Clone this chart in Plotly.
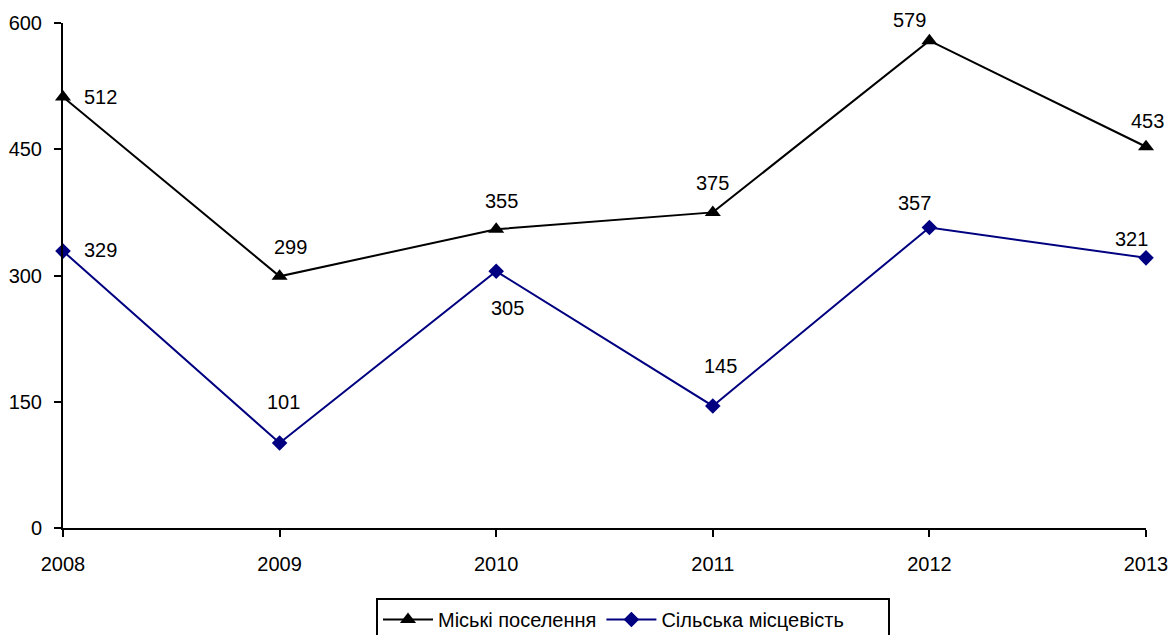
import plotly.graph_objects as go

years = ["2008", "2009", "2010", "2011", "2012", "2013"]
urban = [512, 299, 355, 375, 579, 453]
rural = [329, 101, 305, 145, 357, 321]
y_ticks = [0, 150, 300, 450, 600]

# label offsets (pixels) for data labels: (xshift, yshift)
urban_off = [(37, 0), (11, 29), (5, 28), (0, 29), (-20, 21), (1, 26)]
rural_off = [(37, 1), (4, 41), (11, -37), (8, 40), (-15, 25), (-15, 19)]

FONT = "Liberation Sans, Arial, sans-serif"
xs = list(range(len(years)))

W, H = 1172, 635
NBSP = "\u00a0"

fig = go.Figure()
fig.add_trace(go.Scatter(
    x=xs, y=urban, name="Міські поселення", mode="lines+markers",
    line=dict(color="black", width=2),
    marker=dict(symbol="triangle-up", size=14, color="black"),
    cliponaxis=False,
))
fig.add_trace(go.Scatter(
    x=xs, y=rural, name="Сільська місцевість" + NBSP * 7, mode="lines+markers",
    line=dict(color="#000080", width=2),
    marker=dict(symbol="diamond", size=12, color="#000080"),
    cliponaxis=False,
))

annotations = []
for vals, offs in ((urban, urban_off), (rural, rural_off)):
    for x, v, (dx, dy) in zip(xs, vals, offs):
        annotations.append(dict(
            x=x, y=v, xref="x", yref="y", text=str(v), showarrow=False,
            xshift=dx, yshift=dy, font=dict(family=FONT, size=20, color="black"),
        ))

fig.update_layout(
    width=W, height=H,
    margin=dict(l=63, r=26, t=23, b=107),
    paper_bgcolor="white", plot_bgcolor="white",
    font=dict(family=FONT, size=20, color="black"),
    showlegend=True,
    annotations=annotations,
    legend=dict(orientation="h", x=376 / W, xanchor="left", xref="container",
                y=(H - 598) / H, yanchor="top", yref="container",
                bordercolor="black", borderwidth=2, font=dict(size=20),
                tracegroupgap=0, itemwidth=50),
)
fig.update_xaxes(
    range=[0, len(years) - 1], tickmode="array", tickvals=xs, ticktext=years,
    showline=True, linecolor="black", linewidth=2, ticks="outside", ticklen=7, tickwidth=2,
    tickcolor="black", showgrid=False, zeroline=False, tickfont=dict(size=20),
    automargin=False, ticklabelstandoff=10,
)
fig.update_yaxes(
    range=[0, 600], tickmode="array", tickvals=y_ticks,
    showline=True, linecolor="black", linewidth=2, ticks="outside", ticklen=7, tickwidth=2,
    tickcolor="black", showgrid=False, zeroline=False, tickfont=dict(size=20),
    automargin=False, ticklabelstandoff=8,
)

fig.write_html(
    "out.html",
    config={"displayModeBar": False},
    post_script="document.body.style.margin='0';document.body.style.overflow='hidden';",
)
